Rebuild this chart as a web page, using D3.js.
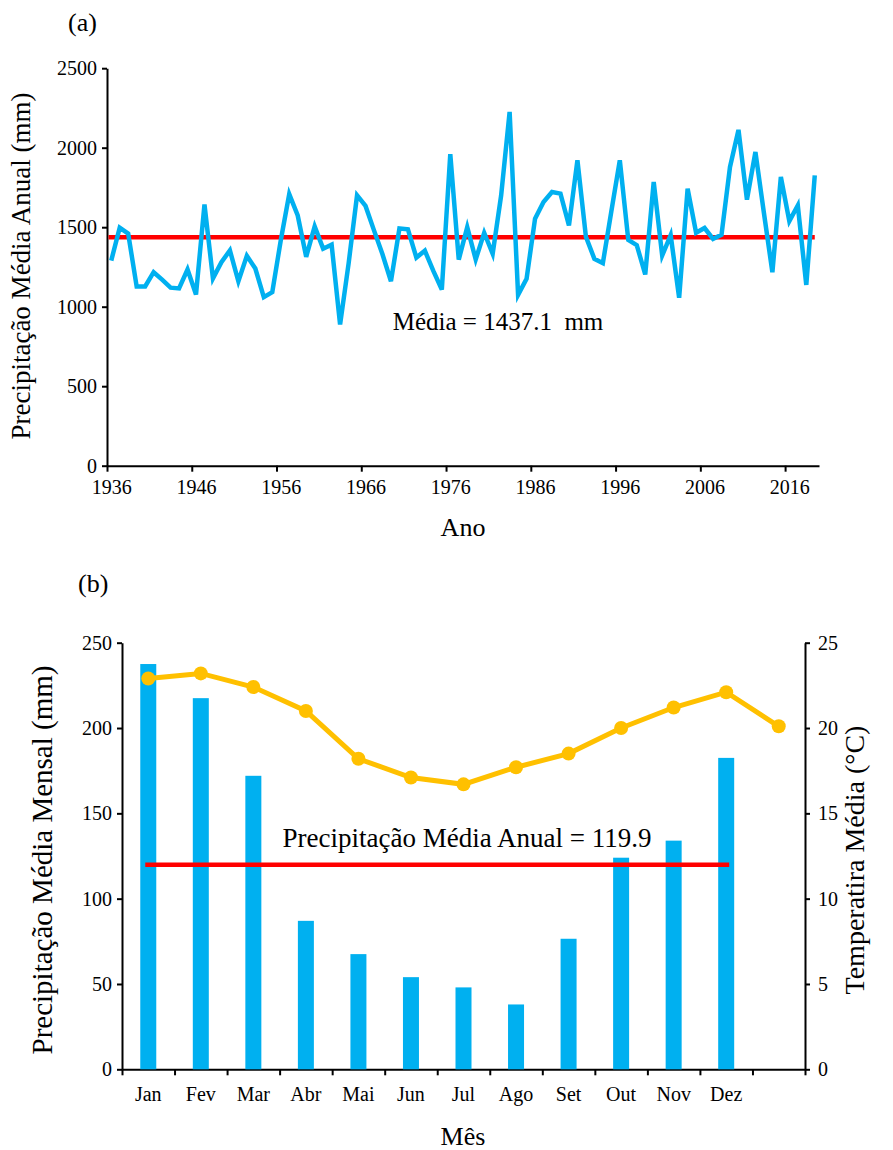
<!DOCTYPE html>
<html>
<head>
<meta charset="utf-8">
<script src="https://cdn.jsdelivr.net/npm/d3@7"></script>
<style>
  body { margin: 0; background: white; }
  text { font-family: "Liberation Serif", "Times New Roman", serif; }
</style>
</head>
<body>
<div id="container"></div>
<script>
// (a) annual precipitation, 1936-2019
let years = d3.range(1936, 2020);
let annualRain = [
  1290, 1497, 1460, 1127, 1127, 1217, 1170, 1120, 1115, 1234,
  1077, 1643, 1178, 1280, 1354, 1160, 1320, 1240, 1060, 1092,
  1417, 1708, 1574, 1314, 1505, 1365, 1390, 888, 1270, 1700,
  1634, 1480, 1330, 1160, 1492, 1487, 1309, 1352, 1225, 1108,
  1960, 1296, 1500, 1297, 1465, 1333, 1700, 2225, 1075, 1176,
  1553, 1658, 1721, 1711, 1511, 1921, 1440, 1301, 1274, 1600,
  1921, 1420, 1387, 1203, 1784, 1322, 1450, 1056, 1742, 1465,
  1495, 1427, 1453, 1879, 2112, 1673, 1973, 1590, 1217, 1816,
  1538, 1637, 1137, 1826
];
let annualMean = 1437.1;
let yearTicks = [1936, 1946, 1956, 1966, 1976, 1986, 1996, 2006, 2016];
let rainTicks = [0, 500, 1000, 1500, 2000, 2500];

// (b) monthly means
let months = ["Jan", "Fev", "Mar", "Abr", "Mai", "Jun", "Jul", "Ago", "Set", "Out", "Nov", "Dez", ""];
let monthRain = [237.5, 217.5, 172, 87, 67.5, 54, 48, 38, 76.5, 124, 134, 182.5];
let monthTemp = [22.9, 23.2, 22.4, 21.0, 18.2, 17.1, 16.7, 17.7, 18.5, 20.0, 21.2, 22.1, 20.1];
let monthMean = 119.9;
let mRainTicks = [0, 50, 100, 150, 200, 250];
let tempTicks = [0, 5, 10, 15, 20, 25];

let w = 893;
let h = 1150;

let blue = "#00b0f0";
let red = "#ff0000";
let orange = "#ffc000";

let viz = d3.select("#container")
  .append("svg")
    .attr("width", w)
    .attr("height", h)
    .style("background-color", "white");

function styleAxis(g, size) {
  g.attr("font-family", null);
  g.selectAll("path, line").attr("stroke", "black").attr("stroke-width", 2);
  g.selectAll("text")
    .attr("fill", "black")
    .style("font-family", "'Liberation Serif', serif")
    .style("font-size", size + "px");
}

// ---------- (a) ----------
let xA = d3.scaleLinear().domain([1936, 2020]).range([107, 819]);
let yA = d3.scaleLinear().domain([0, 2500]).range([465.7, 68.2]);

function xYear(d, i) {
  return xA(years[i] + 0.5);
}

viz.append("g")
    .attr("transform", "translate(107,0)")
    .call(d3.axisLeft(yA).tickValues(rainTicks).tickFormat(d3.format("d")).tickSize(5).tickSizeOuter(0).tickPadding(5))
    .call(g => styleAxis(g, 20));

let xAxisA = viz.append("g")
    .attr("transform", "translate(0,465.7)")
    .call(d3.axisBottom(xA).tickValues(yearTicks).tickFormat(d3.format("d")).tickSize(6).tickSizeOuter(0).tickPadding(8))
    .call(g => styleAxis(g, 20));
xAxisA.selectAll("text").attr("dx", 4.2);

viz.append("line")
    .attr("x1", xA(years[0]) + 1.5)
    .attr("x2", xYear(null, years.length - 1))
    .attr("y1", yA(annualMean))
    .attr("y2", yA(annualMean))
    .attr("stroke", red)
    .attr("stroke-width", 4.5);

viz.append("path")
    .datum(annualRain)
    .attr("d", d3.line().x(xYear).y(d => yA(d)))
    .attr("fill", "none")
    .attr("stroke", blue)
    .attr("stroke-width", 4.5)
    .attr("stroke-linejoin", "miter");

viz.append("text")
    .text("Média = 1437.1\u00a0\u00a0mm")
    .attr("x", 498)
    .attr("y", 330)
    .attr("text-anchor", "middle")
    .style("font-size", "25px");

viz.append("text")
    .text("(a)")
    .attr("x", 68)
    .attr("y", 31)
    .style("font-size", "26px");

viz.append("text")
    .text("Ano")
    .attr("x", 463)
    .attr("y", 536)
    .attr("text-anchor", "middle")
    .style("font-size", "26px");

viz.append("text")
    .text("Precipitação Média Anual (mm)")
    .attr("transform", "translate(30,266) rotate(-90)")
    .attr("text-anchor", "middle")
    .style("font-size", "27px");

// ---------- (b) ----------
let xB = d3.scaleBand().domain(months).range([122, 805]).padding(0);
let yB = d3.scaleLinear().domain([0, 250]).range([1069.3, 642.7]);
let yT = d3.scaleLinear().domain([0, 25]).range([1069.3, 642.7]);
let xEdge = d3.scaleLinear().domain([0, months.length]).range([122, 805]);

function xMonth(d, i) {
  return xB(months[i]) + xB.bandwidth() / 2;
}

viz.append("g")
    .attr("transform", "translate(122,0)")
    .call(d3.axisLeft(yB).tickValues(mRainTicks).tickSize(5).tickSizeOuter(0).tickPadding(5))
    .call(g => styleAxis(g, 20));

viz.append("g")
    .attr("transform", "translate(805,0)")
    .call(d3.axisRight(yT).tickValues(tempTicks).tickSize(5).tickSizeOuter(0).tickPadding(8))
    .call(g => styleAxis(g, 20));

viz.append("g")
    .attr("transform", "translate(0,1069.3)")
    .call(d3.axisBottom(xEdge).tickValues(d3.range(0, months.length + 1)).tickFormat("").tickSize(6).tickSizeOuter(0))
    .call(g => styleAxis(g, 20));

viz.append("g")
    .attr("transform", "translate(0,1069.3)")
    .call(d3.axisBottom(xB).tickSize(0).tickPadding(18))
    .call(g => styleAxis(g, 20))
    .call(g => g.select(".domain").remove());

let barW = 16;
viz.selectAll(".bar")
  .data(monthRain)
  .enter()
  .append("rect")
    .classed("bar", true)
    .attr("x", (d, i) => xMonth(d, i) - barW / 2)
    .attr("y", d => yB(d))
    .attr("width", barW)
    .attr("height", d => yB(0) - yB(d))
    .attr("fill", blue);

viz.append("line")
    .attr("x1", xMonth(null, 0) - 3)
    .attr("x2", xMonth(null, 11) + 3)
    .attr("y1", yB(monthMean))
    .attr("y2", yB(monthMean))
    .attr("stroke", red)
    .attr("stroke-width", 4.5);

viz.append("path")
    .datum(monthTemp)
    .attr("d", d3.line().x(xMonth).y(d => yT(d)))
    .attr("fill", "none")
    .attr("stroke", orange)
    .attr("stroke-width", 5);

viz.selectAll(".dot")
  .data(monthTemp)
  .enter()
  .append("circle")
    .classed("dot", true)
    .attr("cx", xMonth)
    .attr("cy", d => yT(d))
    .attr("r", 7)
    .attr("fill", orange);

viz.append("text")
    .text("Precipitação Média Anual = 119.9")
    .attr("x", 467)
    .attr("y", 847)
    .attr("text-anchor", "middle")
    .style("font-size", "27px");

viz.append("text")
    .text("(b)")
    .attr("x", 78)
    .attr("y", 592)
    .style("font-size", "26px");

viz.append("text")
    .text("Mês")
    .attr("x", 463)
    .attr("y", 1145)
    .attr("text-anchor", "middle")
    .style("font-size", "26px");

viz.append("text")
    .text("Precipitação Média Mensal (mm)")
    .attr("transform", "translate(52,860) rotate(-90)")
    .attr("text-anchor", "middle")
    .style("font-size", "29px");

viz.append("text")
    .text("Temperatira Média (°C)")
    .attr("transform", "translate(864,860) rotate(-90)")
    .attr("text-anchor", "middle")
    .style("font-size", "28px");
</script>
</body>
</html>
